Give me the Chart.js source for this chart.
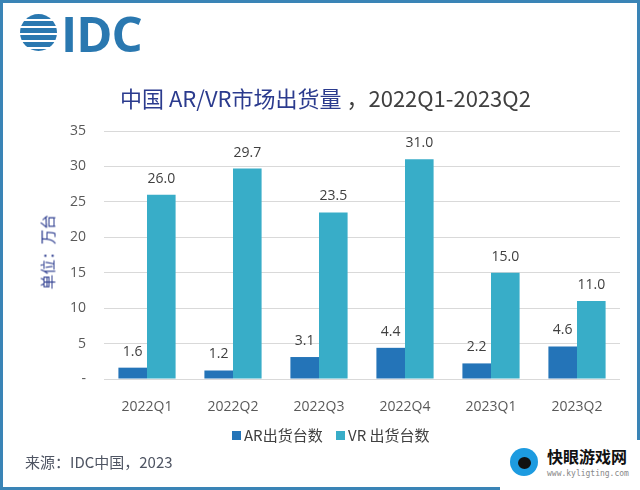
<!DOCTYPE html>
<html>
<head>
<meta charset="utf-8">
<script src="https://cdn.jsdelivr.net/npm/chart.js@4.4.1/dist/chart.umd.min.js"></script>
<style>
  body { margin: 0; background: #fff; }
  #page { position: relative; width: 640px; height: 490px; overflow: hidden; background: #fff;
          font-family: "Noto Sans CJK SC", "Noto Sans", sans-serif; }
  #frame { position: absolute; left: 0; top: 0; width: 634px; height: 484px; border: 3px solid #3a84b6; }
  #chart { position: absolute; left: 0; top: 0; }
  .abs { position: absolute; white-space: nowrap; }
  #logo { left: 20px; top: 10px; height: 44px; }
  #globe { position: absolute; left: 0; top: 4px; width: 37px; height: 37px; border-radius: 50%;
           background: repeating-linear-gradient(180deg, #2a78b0 0 5px, #fff 5px 7px); }
  #idc { position: absolute; left: 41px; top: -10px; font: bold 49px "Open Sans", sans-serif; color: #2a78b0;
         letter-spacing: -1px; }
  #title { left: 120px; top: 81px; font-size: 22px; color: #404040; }
  #title span { color: #2b3b8e; }
  #ytitle { left: 47px; top: 252px; transform: translate(-50%, -50%) rotate(-90deg); font-size: 15px; color: #2b3b8e; }
  #legend { left: 232px; top: 424px; font-size: 15px; color: #404040; }
  #legend i { display: inline-block; width: 9px; height: 9px; margin-right: 3px; vertical-align: 1px; }
  #source { left: 25px; top: 451px; font-size: 15px; color: #4f5563; }
  #wm { left: 500px; top: 440px; width: 140px; height: 50px; background: #fff; }
  #wmdot { position: absolute; left: 10px; top: 8px; width: 28px; height: 28px; border-radius: 50%; background: #1d9be0; }
  #wmdot b { position: absolute; left: 8px; top: 9px; width: 13px; height: 12px; border-radius: 50%; background: #111; }
  #wmtxt { position: absolute; left: 47px; top: 4px; font-size: 16px; font-weight: bold; color: #111; }
  #wmurl { position: absolute; left: 47px; top: 29px; font: 8px "DejaVu Sans Mono", monospace; color: #888; }
</style>
</head>
<body>
<div id="page">
  <div id="frame"></div>
  <canvas id="chart" width="640" height="490"></canvas>
  <div id="logo" class="abs"><div id="globe"></div><div id="idc">IDC</div></div>
  <div id="title" class="abs"><span>中国 AR/VR市场出货量</span> ，2022Q1-2023Q2</div>
  <div id="ytitle" class="abs">单位：万台</div>
  <div id="legend" class="abs"><i style="background:#2474b8"></i>AR出货台数&nbsp;&nbsp;&nbsp;&nbsp;<i style="background:#38adc8"></i>VR 出货台数</div>
  <div id="source" class="abs">来源：IDC中国，2023</div>
  <div id="wm" class="abs"><div id="wmdot"><b></b></div><div id="wmtxt">快眼游戏网</div><div id="wmurl">www.kyligting.com</div></div>
</div>
<script>
// data (万台)
const quarters = ['2022Q1', '2022Q2', '2022Q3', '2022Q4', '2023Q1', '2023Q2'];
const arUnits = [1.6, 1.2, 3.1, 4.4, 2.2, 4.6];
const vrUnits = [26.0, 29.7, 23.5, 31.0, 15.0, 11.0];
const yTicks = [0, 5, 10, 15, 20, 25, 30, 35];

// value labels above each bar
const barLabels = {
    id: 'barLabels',
    afterDatasetsDraw(chart) {
        const ctx = chart.ctx;
        ctx.save();
        ctx.font = '14px "Open Sans", "Noto Sans", sans-serif';
        ctx.fillStyle = '#404040';
        ctx.textAlign = 'center';
        ctx.textBaseline = 'middle';
        chart.data.datasets.forEach(function(ds, i) {
            chart.getDatasetMeta(i).data.forEach(function(bar, j) {
                ctx.fillText(ds.data[j].toFixed(1), bar.x, bar.y - 16);
            });
        });
        ctx.restore();
    }
};

new Chart(document.getElementById('chart'), {
    type: 'bar',
    data: {
        labels: quarters,
        datasets: [{
            label: 'AR出货台数',
            data: arUnits,
            backgroundColor: '#2474b8'
        }, {
            label: 'VR 出货台数',
            data: vrUnits,
            backgroundColor: '#38adc8'
        }]
    },
    options: {
        responsive: false,
        animation: false,
        layout: { padding: { left: 0, right: 20, top: 131, bottom: 71 } },
        plugins: { legend: { display: false }, tooltip: { enabled: false } },
        datasets: { bar: { barPercentage: 1, categoryPercentage: 0.665 } },
        scales: {
            x: {
                grid: { display: false },
                border: { display: false },
                ticks: { color: '#595959', font: { size: 14, family: '"Open Sans", "Noto Sans", sans-serif' }, padding: 12 },
                afterFit(scale) { scale.height = 40; }
            },
            y: {
                min: 0,
                max: 35,
                afterBuildTicks(scale) { scale.ticks = yTicks.map(v => ({ value: v })); },
                grid: { color: '#d9d9d9', drawTicks: false },
                border: { display: false },
                ticks: {
                    color: '#595959',
                    font: { size: 14, family: '"Open Sans", "Noto Sans", sans-serif' },
                    padding: 18,
                    callback: v => v === 0 ? '-' : v
                },
                afterFit(scale) { scale.width = 104; }
            }
        }
    },
    plugins: [barLabels]
});
</script>
</body>
</html>
